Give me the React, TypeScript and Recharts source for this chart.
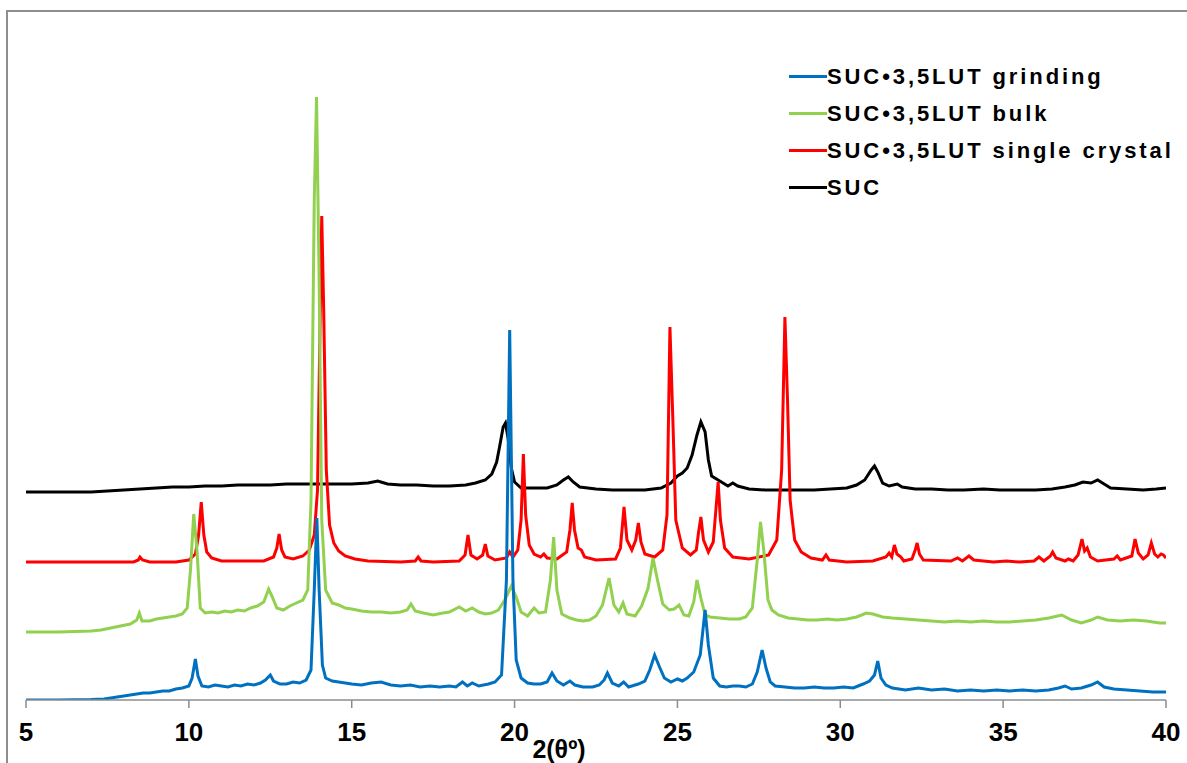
import React from 'react';
import { LineChart, Line, XAxis, YAxis } from 'recharts';

// 2θ (deg) / offset intensity pairs
const grinding: [number, number][] = [
  [5, 0], [6, 0], [7, 0.5], [7.4, 1], [7.8, 3], [8, 4], [8.2, 5], [8.4, 6], [8.6, 7], [8.8, 7],
  [9, 8], [9.2, 9], [9.4, 9], [9.6, 11], [9.8, 12], [10, 14], [10.1, 22], [10.2, 41], [10.28, 24],
  [10.4, 14], [10.6, 13], [10.8, 15], [11, 14], [11.2, 13], [11.4, 15], [11.6, 14], [11.8, 16],
  [12, 15], [12.2, 17], [12.35, 20], [12.5, 25], [12.6, 19], [12.8, 16], [13, 16], [13.2, 18],
  [13.4, 17], [13.6, 20], [13.75, 30], [13.85, 110], [13.93, 182], [14, 110], [14.1, 35],
  [14.2, 22], [14.4, 19], [14.6, 18], [14.8, 17], [15, 16], [15.3, 15], [15.6, 17], [15.9, 18],
  [16.2, 15], [16.5, 14], [16.8, 15], [17.1, 13], [17.4, 14], [17.7, 13], [18, 14], [18.2, 13],
  [18.4, 18], [18.55, 14], [18.7, 17], [18.9, 14], [19.2, 16], [19.4, 18], [19.6, 25],
  [19.75, 120], [19.85, 370], [19.95, 120], [20.05, 40], [20.2, 22], [20.4, 17], [20.6, 16],
  [20.8, 16], [21, 18], [21.15, 27], [21.3, 19], [21.5, 15], [21.7, 19], [21.85, 15], [22.1, 13],
  [22.4, 13], [22.6, 15], [22.75, 20], [22.85, 27], [23, 17], [23.2, 14], [23.35, 18], [23.5, 13],
  [23.8, 16], [24, 19], [24.15, 30], [24.3, 45], [24.45, 33], [24.6, 22], [24.8, 18], [25, 21],
  [25.15, 19], [25.3, 22], [25.5, 28], [25.7, 45], [25.85, 90], [25.95, 55], [26.1, 22],
  [26.3, 14], [26.5, 13], [26.7, 14], [26.9, 14], [27.1, 13], [27.3, 16], [27.45, 28], [27.6, 50],
  [27.72, 32], [27.85, 18], [28, 14], [28.3, 13], [28.6, 12], [28.9, 12], [29.2, 13], [29.5, 12],
  [29.8, 12], [30.1, 13], [30.4, 12], [30.7, 16], [30.9, 19], [31.05, 25], [31.15, 39],
  [31.25, 22], [31.4, 15], [31.6, 12], [31.8, 11], [32, 10], [32.4, 12], [32.8, 10], [33.2, 11],
  [33.6, 9], [34, 10], [34.4, 9], [34.8, 10], [35.2, 9], [35.6, 10], [36, 9], [36.4, 10],
  [36.7, 12], [36.9, 14], [37.1, 11], [37.4, 12], [37.7, 15], [37.9, 18], [38.1, 13], [38.4, 11],
  [38.8, 10], [39.2, 9], [39.6, 8], [40, 8],
];

const bulk: [number, number][] = [
  [5, 68], [6, 68], [7, 69], [7.3, 70], [7.6, 72], [7.9, 74], [8.2, 76], [8.4, 80], [8.48, 87],
  [8.56, 79], [8.8, 79], [9, 81], [9.2, 82], [9.4, 83], [9.6, 84], [9.8, 86], [9.95, 92],
  [10.05, 130], [10.15, 186], [10.25, 150], [10.35, 92], [10.5, 87], [10.7, 88], [10.9, 87],
  [11.1, 89], [11.3, 88], [11.5, 90], [11.7, 89], [11.9, 92], [12.1, 94], [12.3, 98],
  [12.45, 111], [12.55, 104], [12.7, 92], [12.9, 90], [13.1, 94], [13.3, 97], [13.5, 100],
  [13.65, 110], [13.75, 200], [13.85, 500], [13.92, 603], [14, 420], [14.08, 180], [14.2, 110],
  [14.4, 97], [14.6, 95], [14.8, 92], [15, 91], [15.3, 89], [15.6, 88], [15.9, 88], [16.2, 87],
  [16.5, 88], [16.7, 90], [16.82, 96], [16.95, 89], [17.2, 87], [17.5, 85], [17.8, 87], [18, 88],
  [18.3, 93], [18.5, 89], [18.7, 92], [18.9, 88], [19.1, 86], [19.3, 87], [19.5, 90], [19.7, 100],
  [19.9, 114], [20.05, 103], [20.2, 88], [20.4, 84], [20.6, 92], [20.75, 87], [20.95, 88],
  [21.1, 120], [21.2, 163], [21.3, 110], [21.45, 86], [21.7, 82], [21.9, 80], [22.1, 79],
  [22.3, 80], [22.5, 84], [22.7, 95], [22.9, 122], [23.05, 95], [23.2, 88], [23.33, 97],
  [23.45, 86], [23.7, 84], [23.9, 94], [24.1, 112], [24.25, 142], [24.4, 118], [24.55, 96],
  [24.75, 90], [24.9, 91], [25.05, 95], [25.2, 85], [25.35, 84], [25.5, 98], [25.6, 120],
  [25.72, 102], [25.85, 85], [26, 83], [26.3, 82], [26.6, 81], [26.9, 81], [27.1, 83], [27.3, 92],
  [27.45, 140], [27.55, 178], [27.65, 150], [27.78, 100], [27.9, 90], [28.1, 85], [28.4, 82],
  [28.7, 81], [29, 80], [29.3, 80], [29.6, 81], [29.9, 80], [30.2, 81], [30.5, 83], [30.8, 87],
  [31, 86], [31.3, 83], [31.6, 82], [32, 81], [32.4, 80], [32.8, 79], [33.2, 78], [33.6, 79],
  [34, 78], [34.4, 79], [34.8, 78], [35.2, 78], [35.6, 79], [36, 80], [36.4, 82], [36.8, 85],
  [37.1, 80], [37.4, 77], [37.7, 80], [37.9, 83], [38.2, 80], [38.6, 79], [39, 80], [39.4, 79],
  [39.8, 77], [40, 77],
];

const singleCrystal: [number, number][] = [
  [5, 138], [8.3, 138], [8.45, 140], [8.5, 143], [8.58, 140], [8.8, 138], [9.6, 138], [10, 140],
  [10.2, 146], [10.3, 165], [10.38, 198], [10.46, 165], [10.55, 148], [10.7, 142], [11, 139],
  [12.3, 139], [12.6, 143], [12.7, 152], [12.77, 166], [12.85, 150], [12.95, 143], [13.2, 141],
  [13.5, 144], [13.7, 150], [13.85, 165], [13.95, 210], [14.03, 380], [14.08, 484], [14.14, 390],
  [14.22, 230], [14.32, 175], [14.45, 157], [14.6, 149], [14.8, 144], [15.1, 141], [15.5, 139],
  [16.5, 138], [16.95, 139], [17.04, 143], [17.13, 139], [17.5, 138], [18.3, 139], [18.48, 145],
  [18.57, 165], [18.66, 145], [18.85, 141], [19.02, 145], [19.1, 156], [19.18, 144], [19.4, 140],
  [19.75, 142], [19.85, 148], [19.95, 143], [20.1, 150], [20.2, 180], [20.27, 246], [20.34, 185],
  [20.45, 155], [20.6, 146], [20.8, 143], [20.9, 146], [21, 142], [21.3, 141], [21.6, 148],
  [21.7, 170], [21.77, 197], [21.84, 170], [21.95, 152], [22.05, 150], [22.15, 143], [22.5, 140],
  [23.1, 141], [23.25, 152], [23.36, 193], [23.45, 160], [23.6, 150], [23.72, 160], [23.8, 177],
  [23.88, 158], [24, 146], [24.3, 143], [24.55, 150], [24.68, 185], [24.77, 373], [24.86, 280],
  [24.95, 180], [25.02, 170], [25.15, 152], [25.4, 145], [25.58, 150], [25.65, 168], [25.72, 183],
  [25.8, 160], [25.95, 148], [26.1, 158], [26.18, 190], [26.25, 218], [26.32, 180], [26.45, 152],
  [26.7, 143], [27.2, 141], [27.8, 145], [28.05, 160], [28.2, 230], [28.3, 383], [28.38, 300],
  [28.46, 200], [28.52, 182], [28.6, 160], [28.8, 148], [29.1, 142], [29.45, 140], [29.56, 145],
  [29.66, 140], [30.2, 138], [31, 139], [31.4, 143], [31.5, 147], [31.58, 143], [31.66, 155],
  [31.74, 146], [31.86, 143], [31.95, 139], [32.2, 141], [32.3, 150], [32.36, 157], [32.43, 146],
  [32.55, 140], [33.4, 139], [33.6, 142], [33.75, 139], [33.95, 144], [34.1, 140], [34.7, 138],
  [35.1, 139], [35.5, 138], [35.95, 139], [36.1, 143], [36.25, 139], [36.45, 144], [36.52, 148],
  [36.62, 142], [36.9, 139], [37, 141], [37.15, 139], [37.3, 145], [37.42, 161], [37.5, 149],
  [37.58, 152], [37.68, 143], [37.9, 139], [38.4, 141], [38.5, 144], [38.6, 140], [38.95, 144],
  [39.05, 161], [39.15, 147], [39.3, 141], [39.45, 145], [39.55, 157], [39.65, 146], [39.75, 143],
  [39.85, 146], [39.92, 145], [40, 142],
];

const suc: [number, number][] = [
  [5, 208], [6, 208], [7, 208], [7.5, 209], [8, 210], [8.5, 211], [9, 212], [9.5, 213], [10, 213],
  [10.5, 214], [11, 214], [11.5, 215], [12, 215], [12.5, 215], [13, 216], [13.5, 216], [14, 216],
  [14.5, 216], [15, 216], [15.5, 217], [15.8, 219], [16.1, 216], [16.5, 215], [17, 215],
  [17.5, 214], [18, 214], [18.5, 215], [18.8, 217], [19.1, 220], [19.3, 226], [19.45, 238],
  [19.55, 255], [19.65, 273], [19.72, 277], [19.8, 262], [19.9, 232], [20, 218], [20.2, 212],
  [20.5, 212], [21, 212], [21.3, 215], [21.5, 220], [21.65, 223], [21.8, 218], [22, 213],
  [22.5, 211], [23, 210], [23.5, 210], [24, 210], [24.5, 212], [24.8, 217], [25, 224],
  [25.15, 227], [25.3, 232], [25.45, 245], [25.6, 265], [25.72, 278], [25.85, 268], [25.95, 240],
  [26.05, 224], [26.2, 221], [26.35, 218], [26.55, 214], [26.7, 217], [26.85, 214], [27.2, 211],
  [27.7, 210], [28.2, 210], [28.7, 210], [29.2, 210], [29.7, 211], [30.2, 212], [30.5, 215],
  [30.75, 220], [30.95, 230], [31.05, 234], [31.15, 228], [31.3, 217], [31.5, 214], [31.75, 216],
  [31.9, 213], [32.3, 211], [32.8, 211], [33.3, 210], [33.8, 210], [34.4, 211], [34.9, 210],
  [35.5, 210], [36, 210], [36.5, 211], [36.9, 213], [37.2, 215], [37.45, 218], [37.7, 217],
  [37.9, 220], [38.1, 216], [38.3, 212], [38.8, 211], [39.3, 210], [39.7, 211], [40, 212],
];

const xTicks = [5, 10, 15, 20, 25, 30, 35, 40];

const series = [
  { name: 'SUC•3,5LUT grinding', color: '#0070C0', data: grinding },
  { name: 'SUC•3,5LUT bulk', color: '#92D050', data: bulk },
  { name: 'SUC•3,5LUT single crystal', color: '#FF0000', data: singleCrystal },
  { name: 'SUC', color: '#000000', data: suc },
];

const toPoints = (arr: [number, number][]) => arr.map(([x, y]) => ({ x, y }));

const FONT = '"Liberation Sans", Arial, sans-serif';

function LegendBox() {
  return (
    <div style={{ position: 'absolute', left: 789, top: 58, fontFamily: FONT }}>
      {series.map((s) => (
        <div key={s.name} style={{ display: 'flex', alignItems: 'center', height: 37 }}>
          <div style={{ width: 38, height: 3, background: s.color }} />
          <span style={{ fontSize: 22, fontWeight: 'bold', letterSpacing: 2.9, color: '#000', whiteSpace: 'nowrap' }}>
            {s.name}
          </span>
        </div>
      ))}
    </div>
  );
}

export default function App() {
  // draw order: SUC at the back, grinding on top
  const drawOrder = [...series].reverse();
  return (
    <div style={{ position: 'fixed', left: 0, top: 0, width: 1187, height: 763, overflow: 'hidden', background: '#fff' }}>
      <div
        style={{
          position: 'absolute', left: 6, top: 10, width: 1300, height: 900,
          borderLeft: '2px solid #8e8e8e', borderTop: '2px solid #8e8e8e',
        }}
      />
      <div style={{ position: 'absolute', left: 0, top: 0 }}>
        <LineChart width={1187} height={763} margin={{ top: 60, right: 21, bottom: 0, left: 26 }}>
          <XAxis
            dataKey="x"
            type="number"
            domain={[5, 40]}
            ticks={xTicks}
            allowDataOverflow
            height={63}
            stroke="#8c8c8c"
            strokeWidth={1.5}
            tickSize={8}
            tickMargin={15}
            tick={{ fontSize: 26, fontWeight: 'bold', fill: '#000', fontFamily: FONT }}
            label={{
              value: '2(θº)', position: 'insideBottom', offset: 5, dx: -37,
              style: { fontSize: 25, fontWeight: 'bold', fill: '#000', fontFamily: FONT },
            }}
          />
          <YAxis hide type="number" domain={[0, 640]} allowDataOverflow />
          {drawOrder.map((s) => (
            <Line
              key={s.name}
              data={toPoints(s.data)}
              dataKey="y"
              name={s.name}
              type="linear"
              stroke={s.color}
              strokeWidth={3}
              dot={false}
              activeDot={false}
              isAnimationActive={false}
            />
          ))}
        </LineChart>
      </div>
      <LegendBox />
    </div>
  );
}
